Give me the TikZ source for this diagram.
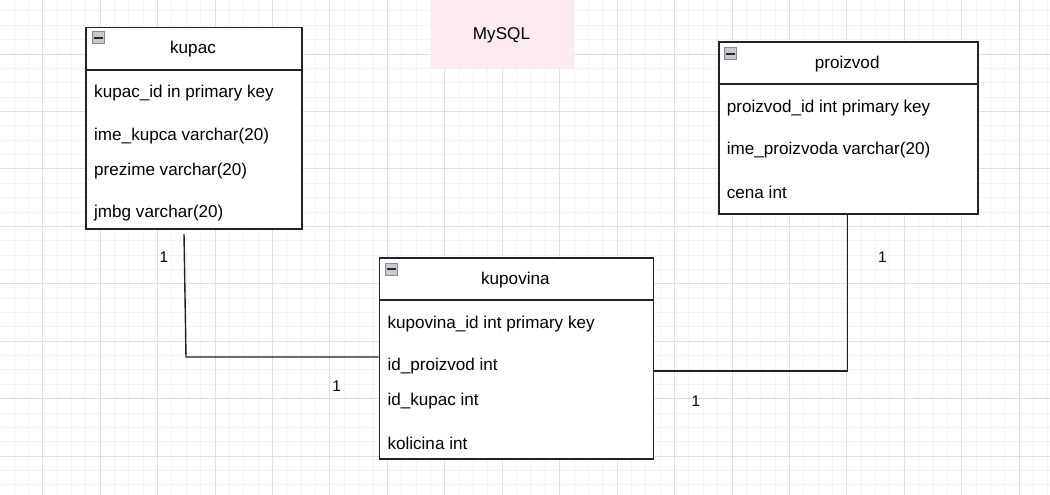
\documentclass[tikz,border=0pt]{standalone}
\usepackage{fontspec}
\setmainfont{Liberation Sans}
\definecolor{minorc}{RGB}{243,243,243}
\definecolor{majorc}{RGB}{223,223,223}
\definecolor{pinkc}{RGB}{253,234,242}
\definecolor{linec}{RGB}{34,34,34}
\definecolor{iconfill}{RGB}{200,200,208}
\definecolor{iconline}{RGB}{135,135,148}
\tikzset{
  entity/.style={draw=linec, line width=1.8pt, fill=white, anchor=north west, inner sep=0pt},
  divider/.style={draw=linec, line width=1.8pt},
  conn/.style={draw=linec, line width=1.4pt},
  row/.style={anchor=base west, inner sep=0pt, font=\fontsize{17.1}{20}\selectfont},
  ttl/.style={anchor=base, inner sep=0pt, font=\fontsize{17.1}{20}\selectfont},
  card/.style={anchor=base, inner sep=0pt, font=\fontsize{15.4}{18}\selectfont},
  icon/.style={draw=iconline, line width=1pt, fill=iconfill, minimum width=12pt, minimum height=12pt, inner sep=0pt, anchor=north west}
}
\begin{document}
\begin{tikzpicture}[x=1pt,y=-1pt]
\useasboundingbox (0,0) rectangle (1050,495);
\clip (0,0) rectangle (1050,495);
\fill[white] (0,0) rectangle (1050,495);
% grid
\foreach \i [evaluate=\i as \xx using -0.4+\i*14.36] in {0,...,73}
  \draw[minorc, line width=0.9pt] (\xx,0) -- (\xx,495);
\foreach \j [evaluate=\j as \yy using 10.92+\j*14.36] in {0,...,34}
  \draw[minorc, line width=0.9pt] (0,\yy) -- (1050,\yy);
\foreach \i [evaluate=\i as \xx using 42.68+\i*57.44] in {0,...,17}
  \draw[majorc, line width=0.9pt] (\xx,0) -- (\xx,495);
\foreach \j [evaluate=\j as \yy using 54+\j*57.44] in {0,...,7}
  \draw[majorc, line width=0.9pt] (0,\yy) -- (1050,\yy);
% MySQL label box
\node[fill=pinkc, anchor=north west, minimum width=143pt, minimum height=71pt, inner sep=0pt] (mysqlbox) at (431,-2) {};
\node[ttl] (mysql) at (501.5,39.5) {MySQL};
% kupac
\node[entity, minimum width=216pt, minimum height=201pt] (kupac) at (85,26.7) {};
\draw[divider] (85,70) -- (301,70);
\node[icon] (kupacI) at (92,31.5) {};
\draw[black!85, line width=1.4pt] ([xshift=2.2pt]kupacI.west) -- ([xshift=-2.2pt]kupacI.east);
\node[ttl] (kupacT) at (193,54) {kupac};
\node[row] (k1) at (94,97.5) {kupac\_id in primary key};
\node[row] (k2) at (94,140.5) {ime\_kupca varchar(20)};
\node[row] (k3) at (94,175.5) {prezime varchar(20)};
\node[row] (k4) at (94,217.2) {jmbg varchar(20)};
% kupovina
\node[entity, minimum width=274pt, minimum height=201pt] (kupovina) at (378.5,256.7) {};
\draw[divider] (378.5,300) -- (652.5,300);
\node[icon] (kupovinaI) at (385,262.5) {};
\draw[black!85, line width=1.4pt] ([xshift=2.2pt]kupovinaI.west) -- ([xshift=-2.2pt]kupovinaI.east);
\node[ttl] (kupovinaT) at (515.4,284) {kupovina};
\node[row] (v1) at (387.3,328) {kupovina\_id int primary key};
\node[row] (v2) at (387.3,370.5) {id\_proizvod int};
\node[row] (v3) at (387.3,405.5) {id\_kupac int};
\node[row] (v4) at (387.3,449.5) {kolicina int};
% proizvod
\node[entity, minimum width=259pt, minimum height=172pt] (proizvod) at (717.7,41) {};
\draw[divider] (717.7,84) -- (976.7,84);
\node[icon] (proizvodI) at (724,47.5) {};
\draw[black!85, line width=1.4pt] ([xshift=2.2pt]proizvodI.west) -- ([xshift=-2.2pt]proizvodI.east);
\node[ttl] (proizvodT) at (847.2,68.5) {proizvod};
\node[row] (p1) at (726.7,112.2) {proizvod\_id int primary key};
\node[row] (p2) at (726.7,154) {ime\_proizvoda varchar(20)};
\node[row] (p3) at (726.7,198) {cena int};
% connectors
\coordinate (c1) at (184,234);
\coordinate (b1) at (186,357);
\draw[conn] (c1) -- (b1) -- (b1 -| kupovina.west);
\coordinate (b2) at (847.3,371);
\draw[conn] (proizvod.south -| b2) -- (b2) -- (b2 -| kupovina.east);
% cardinalities
\node[card] (l1) at (164,262.6) {1};
\node[card] (l2) at (336.7,391) {1};
\node[card] (l3) at (882.3,262.3) {1};
\node[card] (l4) at (696,406) {1};
\end{tikzpicture}
\end{document}
